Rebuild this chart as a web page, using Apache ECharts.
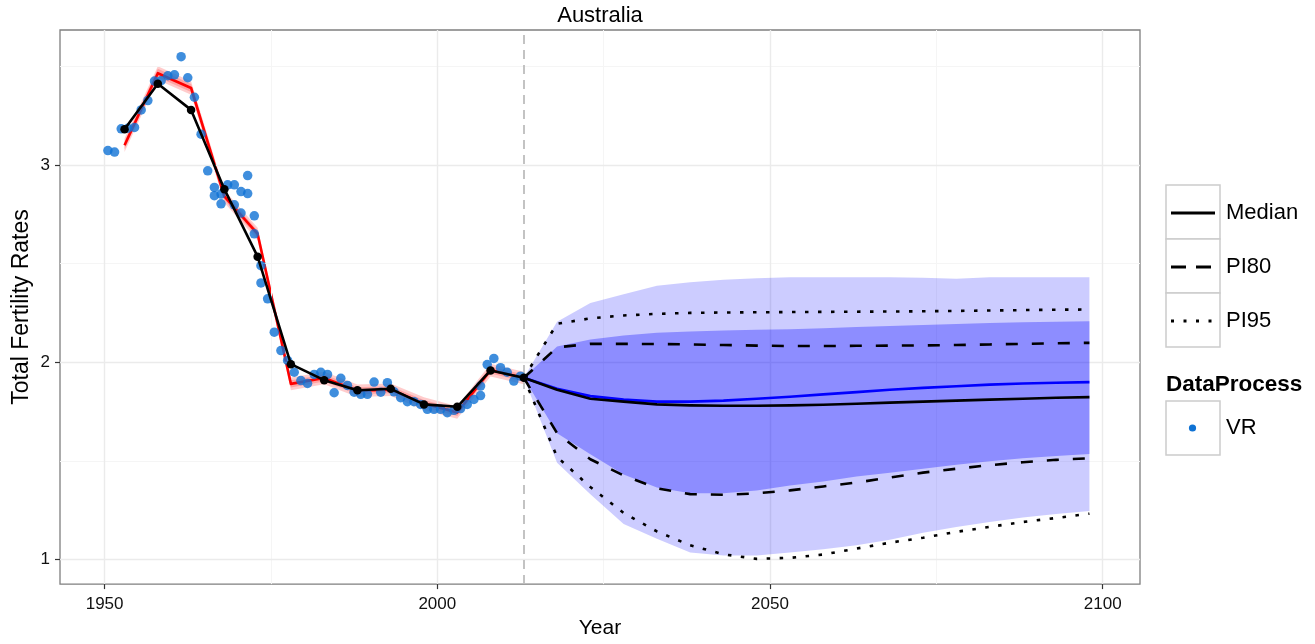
<!DOCTYPE html>
<html>
<head>
<meta charset="utf-8">
<title>Australia – Total Fertility Rates</title>
<script src="https://cdn.jsdelivr.net/npm/echarts@6/dist/echarts.min.js"></script>
<style>
  html, body { margin: 0; padding: 0; background: #ffffff; }
  #chart { width: 1315px; height: 644px; }
</style>
</head>
<body>
<div id="chart"></div>
<script>
// ---------- data ----------
// Five-year period midpoints of the estimation period
const pastYears  = [1953, 1958, 1963, 1968, 1973, 1978, 1983, 1988, 1993, 1998, 2003, 2008, 2013];
// Median of the past estimates (black line with points)
const pastMedian = [3.181, 3.412, 3.279, 2.877, 2.535, 1.990, 1.909, 1.858, 1.865, 1.786, 1.774, 1.958, 1.921];
// Red estimate line and its two uncertainty bands
const estMedian  = [3.100, 3.465, 3.390, 2.840, 2.650, 1.890, 1.920, 1.855, 1.860, 1.790, 1.745, 1.960, 1.920];
const estLow80   = [3.080, 3.445, 3.370, 2.822, 2.632, 1.872, 1.902, 1.837, 1.842, 1.772, 1.727, 1.942, 1.902];
const estHigh80  = [3.120, 3.487, 3.410, 2.858, 2.668, 1.908, 1.938, 1.873, 1.878, 1.808, 1.763, 1.978, 1.938];
const estLow95   = [3.066, 3.430, 3.356, 2.808, 2.618, 1.858, 1.888, 1.823, 1.828, 1.758, 1.713, 1.928, 1.888];
const estHigh95  = [3.134, 3.500, 3.424, 2.872, 2.682, 1.922, 1.952, 1.887, 1.892, 1.822, 1.777, 1.992, 1.952];

// Vital registration observations (calendar year, TFR)
const vrYears  = [1950, 1951, 1952, 1953, 1954, 1955, 1956, 1957, 1958, 1959, 1960, 1961, 1962, 1963, 1964,
                  1965, 1966, 1966, 1967, 1967, 1968, 1969, 1969, 1970, 1970, 1971, 1971, 1972, 1972,
                  1973, 1973, 1974, 1975, 1976, 1977, 1978, 1979, 1980, 1981, 1982, 1983, 1984, 1985,
                  1986, 1987, 1988, 1989, 1990, 1991, 1992, 1993, 1994, 1995, 1996, 1997, 1998, 1999,
                  2000, 2001, 2002, 2003, 2004, 2005, 2006, 2006, 2007, 2008, 2009, 2010, 2011, 2012];
const vrValues = [3.073, 3.065, 3.183, 3.186, 3.190, 3.279, 3.326, 3.425, 3.427, 3.452, 3.457, 3.549, 3.442, 3.343, 3.156,
                  2.970, 2.886, 2.844, 2.852, 2.803, 2.899, 2.899, 2.798, 2.865, 2.756, 2.946, 2.855, 2.742, 2.651,
                  2.489, 2.402, 2.321, 2.152, 2.059, 2.009, 1.949, 1.907, 1.892, 1.938, 1.949, 1.938, 1.845, 1.918,
                  1.882, 1.848, 1.837, 1.837, 1.899, 1.848, 1.896, 1.850, 1.820, 1.800, 1.800, 1.786, 1.761, 1.761,
                  1.761, 1.744, 1.756, 1.765, 1.786, 1.811, 1.831, 1.879, 1.988, 2.019, 1.972, 1.949, 1.904, 1.929];

// Projection period
const projYears  = [2013, 2018, 2023, 2028, 2033, 2038, 2043, 2048, 2053, 2058, 2063, 2068, 2073, 2078, 2083, 2088, 2093, 2098];
const projMedian = [1.921, 1.860, 1.815, 1.800, 1.786, 1.781, 1.779, 1.779, 1.781, 1.784, 1.789, 1.795, 1.800, 1.805, 1.810, 1.815, 1.820, 1.823];
const projBlue   = [1.921, 1.865, 1.828, 1.810, 1.800, 1.800, 1.805, 1.815, 1.825, 1.837, 1.848, 1.860, 1.870, 1.878, 1.886, 1.892, 1.896, 1.899];
const pi80High   = [1.921, 2.075, 2.093, 2.093, 2.092, 2.090, 2.087, 2.084, 2.082, 2.082, 2.083, 2.084, 2.085, 2.087, 2.090, 2.093, 2.096, 2.098];
const pi80Low    = [1.921, 1.640, 1.508, 1.426, 1.361, 1.331, 1.328, 1.335, 1.350, 1.370, 1.390, 1.415, 1.440, 1.460, 1.478, 1.493, 1.505, 1.513];
const pi95High   = [1.921, 2.195, 2.222, 2.237, 2.245, 2.250, 2.252, 2.253, 2.254, 2.255, 2.256, 2.257, 2.258, 2.260, 2.262, 2.264, 2.266, 2.267];
const pi95Low    = [1.921, 1.520, 1.367, 1.236, 1.142, 1.072, 1.026, 1.003, 1.008, 1.025, 1.055, 1.085, 1.110, 1.140, 1.165, 1.190, 1.210, 1.232];
// Shaded projection bands
const band80High = [1.921, 2.080, 2.115, 2.135, 2.149, 2.155, 2.160, 2.164, 2.167, 2.172, 2.178, 2.184, 2.189, 2.194, 2.199, 2.203, 2.205, 2.207];
const band80Low  = [1.921, 1.640, 1.533, 1.430, 1.365, 1.335, 1.335, 1.350, 1.375, 1.395, 1.420, 1.440, 1.460, 1.480, 1.498, 1.513, 1.525, 1.535];
const band95High = [1.921, 2.205, 2.300, 2.345, 2.388, 2.405, 2.418, 2.425, 2.430, 2.430, 2.430, 2.430, 2.428, 2.423, 2.430, 2.430, 2.430, 2.430];
const band95Low  = [1.921, 1.490, 1.330, 1.180, 1.105, 1.035, 1.020, 1.020, 1.035, 1.052, 1.072, 1.100, 1.135, 1.165, 1.190, 1.212, 1.230, 1.245];

const presentYear = 2013;

// Axis ticks and grid lines
const xTicks = [1950, 2000, 2050, 2100];
const xMinor = [1975, 2025, 2075];
const yTicks = [1, 2, 3];
const yMinor = [1.5, 2.5, 3.5];

// ---------- helpers ----------
const FONT = '"Liberation Sans", Arial, Helvetica, sans-serif';
const zip = (xs, ys) => xs.map((x, i) => [x, ys[i]]);

function band(name, xs, lo, hi, fill, z) {
  return {
    name, type: 'custom', z, silent: true, clip: true,
    data: [[xs[0], lo[0]]],
    renderItem(params, api) {
      const pts = [];
      for (let i = 0; i < xs.length; i++) pts.push(api.coord([xs[i], hi[i]]));
      for (let i = xs.length - 1; i >= 0; i--) pts.push(api.coord([xs[i], lo[i]]));
      return { type: 'polygon', shape: { points: pts }, style: { fill } };
    }
  };
}

function line(name, data, color, z, dash) {
  return {
    name, type: 'line', z, silent: true, data,
    showSymbol: false, symbol: 'none',
    lineStyle: { color, width: 2.6, type: dash || 'solid', cap: 'butt', join: 'round' }
  };
}

const majorGrid = { color: '#ebebeb', width: 1.4, type: 'solid' };
const minorGrid = { color: '#f5f5f5', width: 1, type: 'solid' };
const gridMarks = []
  .concat(xMinor.map(v => ({ xAxis: v, lineStyle: minorGrid })))
  .concat(yMinor.map(v => ({ yAxis: v, lineStyle: minorGrid })))
  .concat(xTicks.map(v => ({ xAxis: v, lineStyle: majorGrid })))
  .concat(yTicks.map(v => ({ yAxis: v, lineStyle: majorGrid })));

// ---------- chart ----------
const chart = echarts.init(document.getElementById('chart'), null, { renderer: 'canvas' });

const legendBox = (y) => ({ type: 'rect', shape: { x: 1166, y, width: 54, height: 54 },
  style: { fill: '#ffffff', stroke: '#cccccc', lineWidth: 1.5 }, z: 10 });
const legendText = (text, y, bold) => ({ type: 'text', x: bold ? 1166 : 1226, y, z: 11,
  style: { text, font: (bold ? 'bold 22.5px ' : '22px ') + FONT, fill: '#000', verticalAlign: 'middle', textAlign: 'left' } });

chart.setOption({
  animation: false,
  backgroundColor: '#ffffff',
  textStyle: { fontFamily: FONT },
  grid: { left: 60, right: 175, top: 30, bottom: 59, show: true, borderColor: '#7f7f7f', borderWidth: 1.3, backgroundColor: '#ffffff' },
  xAxis: {
    type: 'value', min: 1943.3, max: 2105.6,
    name: 'Year', nameLocation: 'middle', nameGap: 31,
    nameTextStyle: { fontSize: 21, color: '#000', fontFamily: FONT },
    axisLine: { show: false },
    axisTick: { show: true, customValues: xTicks, length: 5, lineStyle: { color: '#333', width: 1.2 } },
    axisLabel: { customValues: xTicks, fontSize: 17, color: '#111', margin: 12, fontFamily: FONT,
      formatter: v => String(v) },
    splitLine: { show: false }
  },
  yAxis: {
    type: 'value', min: 0.875, max: 3.684,
    axisLine: { show: false },
    axisTick: { show: true, customValues: yTicks, length: 5, lineStyle: { color: '#333', width: 1.2 } },
    axisLabel: { customValues: yTicks, fontSize: 17, color: '#111', margin: 10, fontFamily: FONT,
      formatter: v => String(v) },
    splitLine: { show: false }
  },
  graphic: [
    { type: 'text', x: 600, y: 16, z: 11,
      style: { text: 'Australia', font: '22px ' + FONT, fill: '#000', textAlign: 'center', verticalAlign: 'middle' } },
    // y axis title
    { type: 'text', x: 22, y: 307, rotation: Math.PI / 2, z: 11,
      style: { text: 'Total Fertility Rates', font: '23px ' + FONT, fill: '#000', textAlign: 'center', verticalAlign: 'middle' } },
    legendBox(185), legendBox(239), legendBox(293),
    { type: 'line', z: 11, shape: { x1: 1171, y1: 213, x2: 1215, y2: 213 }, style: { stroke: '#000', lineWidth: 3 } },
    { type: 'line', z: 11, shape: { x1: 1171, y1: 267, x2: 1215, y2: 267 }, style: { stroke: '#000', lineWidth: 3, lineDash: [15, 10] } },
    { type: 'line', z: 11, shape: { x1: 1171, y1: 321, x2: 1215, y2: 321 }, style: { stroke: '#000', lineWidth: 3, lineDash: [3, 9.5] } },
    legendText('Median', 213), legendText('PI80', 267), legendText('PI95', 321),
    legendText('DataProcess', 385, true),
    legendBox(401),
    { type: 'circle', z: 11, shape: { cx: 1192.5, cy: 428, r: 3.6 }, style: { fill: '#0f72d4' } },
    legendText('VR', 428)
  ],
  series: [
    // background grid lines
    { name: 'grid', type: 'line', data: [], z: 1, silent: true,
      markLine: { silent: true, symbol: ['none', 'none'], label: { show: false }, animation: false, data: gridMarks } },
    // present year marker
    { name: 'present', type: 'line', data: [], z: 2, silent: true,
      markLine: { silent: true, symbol: ['none', 'none'], label: { show: false }, animation: false,
        data: [{ xAxis: presentYear, lineStyle: { color: '#bdbdbd', width: 1.8, type: [9, 6] } }] } },
    // past estimate bands and line
    band('est95', pastYears, estLow95, estHigh95, 'rgba(255,0,0,0.2)', 3),
    band('est80', pastYears, estLow80, estHigh80, 'rgba(255,0,0,0.2)', 3),
    line('estimate', zip(pastYears, estMedian), '#ff0000', 4),
    // observations
    { name: 'VR', type: 'scatter', z: 5, silent: true, symbol: 'circle', symbolSize: 9.5,
      itemStyle: { color: '#0f72d4' }, data: vrYears.map((y, i) => [y + 0.5, vrValues[i]]) },
    // past median
    { name: 'Median', type: 'line', z: 6, silent: true, data: zip(pastYears, pastMedian),
      symbol: 'circle', symbolSize: 8.5, showSymbol: true,
      itemStyle: { color: '#000' }, lineStyle: { color: '#000', width: 2.6, join: 'round' } },
    // projection bands
    band('band95', projYears, band95Low, band95High, 'rgba(0,0,255,0.2)', 6),
    band('band80', projYears, band80Low, band80High, 'rgba(0,0,255,0.31)', 6),
    line('projBlue', zip(projYears, projBlue), '#0000ff', 7),
    line('projMedian', zip(projYears, projMedian), '#000000', 8),
    line('PI80 upper', zip(projYears, pi80High), '#000000', 8, [12, 14]),
    line('PI80 lower', zip(projYears, pi80Low), '#000000', 8, [12, 14]),
    line('PI95 upper', zip(projYears, pi95High), '#000000', 8, [3.5, 9.5]),
    line('PI95 lower', zip(projYears, pi95Low), '#000000', 8, [3.5, 9.5])
  ]
});
</script>
</body>
</html>
